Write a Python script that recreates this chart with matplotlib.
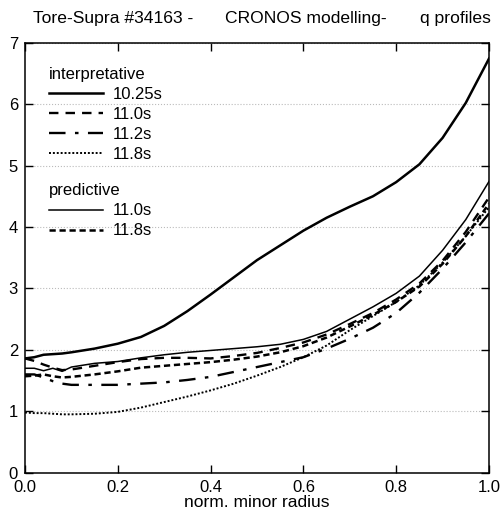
import numpy as np
import matplotlib
matplotlib.use('Agg')
from matplotlib import pyplot as plt

plt.rcParams['font.family'] = ['Liberation Sans', 'DejaVu Sans']

# normalised minor radius
r = [0.0, 0.02, 0.04, 0.06, 0.08, 0.1, 0.15, 0.2, 0.25, 0.3, 0.35, 0.4,
     0.45, 0.5, 0.55, 0.6, 0.65, 0.7, 0.75, 0.8, 0.85, 0.9, 0.95, 1.0]

# interpretative q profiles
q_int_1025 = [1.86, 1.88, 1.92, 1.93, 1.94, 1.96, 2.02, 2.10, 2.21, 2.39, 2.63, 2.90,
              3.18, 3.46, 3.70, 3.94, 4.15, 4.33, 4.50, 4.73, 5.02, 5.45, 6.02, 6.74]
q_int_110 = [1.86, 1.82, 1.76, 1.71, 1.67, 1.68, 1.74, 1.80, 1.85, 1.87, 1.87, 1.86,
             1.90, 1.95, 2.03, 2.12, 2.25, 2.42, 2.60, 2.82, 3.08, 3.45, 3.92, 4.48]
q_int_112 = [1.60, 1.60, 1.55, 1.49, 1.45, 1.43, 1.43, 1.43, 1.45, 1.47, 1.51, 1.56,
             1.64, 1.72, 1.80, 1.88, 2.02, 2.18, 2.36, 2.60, 2.93, 3.32, 3.75, 4.22]
q_int_118 = [0.98, 0.97, 0.97, 0.96, 0.95, 0.95, 0.96, 0.99, 1.06, 1.15, 1.24, 1.34,
             1.45, 1.58, 1.72, 1.88, 2.07, 2.32, 2.55, 2.78, 3.05, 3.42, 3.85, 4.32]

# predictive q profiles
q_pred_110 = [1.70, 1.70, 1.66, 1.70, 1.65, 1.72, 1.78, 1.81, 1.87, 1.92, 1.96, 1.99,
              2.02, 2.05, 2.09, 2.17, 2.30, 2.50, 2.70, 2.92, 3.20, 3.62, 4.12, 4.74]
q_pred_118 = [1.57, 1.58, 1.60, 1.57, 1.55, 1.56, 1.60, 1.65, 1.71, 1.74, 1.77, 1.80,
              1.84, 1.89, 1.96, 2.06, 2.20, 2.38, 2.57, 2.78, 3.03, 3.40, 3.85, 4.38]

xticks = [0.0, 0.2, 0.4, 0.6, 0.8, 1.0]
yticks = [0, 1, 2, 3, 4, 5, 6, 7]

fig = plt.figure(figsize=(5.01, 5.16), dpi=100)
ax = fig.add_axes([0.0499, 0.0839, 0.9261, 0.8334])

l1, = ax.plot(r, q_int_1025, color='black', lw=1.8, ls='-')
l2, = ax.plot(r, q_int_110, color='black', lw=1.7, ls=(0, (4, 3)))
l3, = ax.plot(r, q_int_112, color='black', lw=1.7, ls=(0, (7, 4, 1.5, 4)))
l4, = ax.plot(r, q_int_118, color='black', lw=1.4, ls=(0, (1, 1)))
p1, = ax.plot(r, q_pred_110, color='black', lw=1.1, ls='-')
p2, = ax.plot(r, q_pred_118, color='black', lw=1.8, ls=(0, (2.5, 1.5)))

ax.set_xlim(0, 1)
ax.set_ylim(0, 7)
ax.set_xticks(xticks)
ax.set_xticklabels(['%.1f' % t for t in xticks])
ax.set_yticks(yticks)
ax.tick_params(direction='in', length=6, width=1, top=True, right=True,
               labelsize=12, pad=5)
ax.yaxis.grid(True, linestyle=':', color='#bbbbbb', lw=0.8)
ax.set_axisbelow(True)
for s in ax.spines.values():
    s.set_linewidth(1.1)

ax.set_xlabel('norm. minor radius', fontsize=12.5, labelpad=0)

leg1 = ax.legend([l1, l2, l3, l4], ['10.25s', '11.0s', '11.2s', '11.8s'],
                 title='interpretative', loc='upper left', bbox_to_anchor=(0.027, 0.97),
                 frameon=False, fontsize=12, title_fontsize=12, handlelength=3.25,
                 handletextpad=0.55, labelspacing=0.3, alignment='left', borderaxespad=0.3)
ax.add_artist(leg1)
ax.legend([p1, p2], ['11.0s', '11.8s'], title='predictive', loc='upper left',
          bbox_to_anchor=(0.027, 0.70), frameon=False, fontsize=12, title_fontsize=12,
          handlelength=3.25, handletextpad=0.55, labelspacing=0.3, alignment='left',
          borderaxespad=0.3)

fig.text(0.066, 0.965, 'Tore-Supra #34163 -', fontsize=12.6, va='center')
fig.text(0.449, 0.965, 'CRONOS modelling-', fontsize=12.6, va='center')
fig.text(0.838, 0.965, 'q profiles', fontsize=12.6, va='center')

fig.savefig('out.png', dpi=100)
